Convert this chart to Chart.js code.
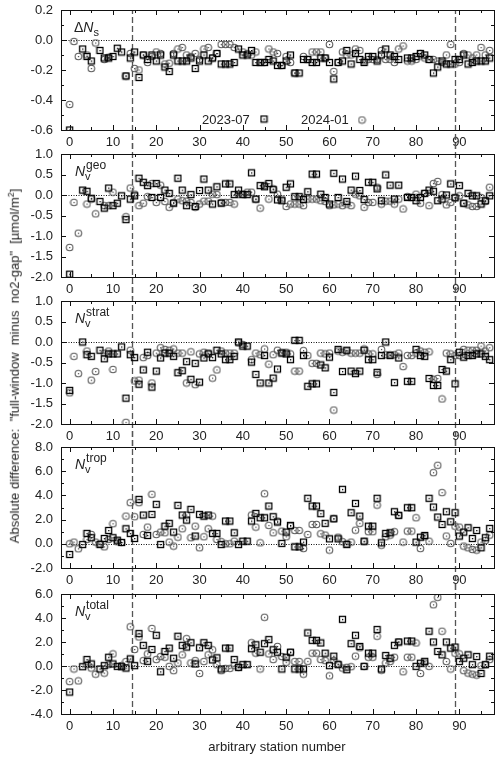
<!DOCTYPE html>
<html>
<head>
<meta charset="utf-8">
<script src="https://cdn.jsdelivr.net/npm/chart.js@4.4.1/dist/chart.umd.min.js"></script>
<style>
body { margin: 0; background: #fff; width: 500px; height: 758px; position: relative; overflow: hidden;
       font-family: "Liberation Sans", Arial, sans-serif; color: #222; }
.pane { position: absolute; left: 0; width: 500px; }
#ytitle { position: absolute; left: 14px; top: 366px; transform: translate(-50%, -50%) rotate(-90deg);
          white-space: pre; font-size: 13px; }
#xtitle { position: absolute; left: 277px; top: 746px; transform: translate(-50%, -50%);
          white-space: nowrap; font-size: 13px; }
</style>
</head>
<body>
<div class="pane" style="top:-8px"><canvas id="c0" width="500" height="160"></canvas></div>
<div class="pane" style="top:136px"><canvas id="c1" width="500" height="163"></canvas></div>
<div class="pane" style="top:283px"><canvas id="c2" width="500" height="163"></canvas></div>
<div class="pane" style="top:429px"><canvas id="c3" width="500" height="161"></canvas></div>
<div class="pane" style="top:576px"><canvas id="c4" width="500" height="160"></canvas></div>
<div id="ytitle">Absolute difference:  "full-window  minus  no2-gap"  [µmol/m<sup style="font-size:9px">2</sup>]</div>
<div id="xtitle">arbitrary station number</div>

<script>
// stations along the x axis
const stations = Array.from({ length: 98 }, (_, i) => i);
const xTicks = [0, 10, 20, 30, 40, 50, 60, 70, 80, 90];
const dashedAt = [14.5, 89];
const seriesNames = ['2023-07', '2024-01'];

// ΔN_s
const nsJul = [-0.60, null, null, -0.06, -0.11, -0.14, null, -0.07, -0.12, -0.12,
  -0.11, -0.055, -0.08, -0.24, -0.12, -0.08, -0.25, -0.10, -0.13, -0.10,
  -0.14, -0.10, -0.18, -0.21, -0.10, -0.14, -0.14, -0.14, -0.12, -0.19,
  -0.14, -0.10, -0.14, -0.12, -0.09, -0.16, -0.16, -0.16, -0.15, -0.06,
  -0.10, -0.10, -0.07, -0.15, -0.15, -0.15, -0.13, -0.14, -0.17, -0.17,
  -0.14, -0.10, -0.22, -0.22, -0.13, -0.13, -0.15, -0.15, -0.12, -0.12,
  -0.15, -0.26, -0.15, -0.14, -0.07, -0.16, -0.09, -0.13, -0.15, -0.11,
  -0.11, -0.14, -0.10, -0.06, -0.10, -0.11, -0.13, null, -0.12, -0.12,
  -0.11, -0.09, -0.10, -0.13, -0.22, -0.18, -0.14, -0.16, -0.16, -0.13,
  -0.13, -0.10, -0.16, -0.15, -0.14, -0.14, -0.14, -0.12];
const nsJan = [-0.43, -0.01, -0.11, null, -0.10, -0.19, -0.02, null, -0.13, -0.115,
  null, null, null, -0.24, -0.09, -0.19, -0.20, -0.10, -0.15, -0.11,
  -0.08, -0.09, -0.16, -0.155, -0.09, -0.06, -0.05, -0.10, -0.11, -0.09,
  -0.13, -0.06, -0.05, -0.12, -0.09, -0.03, -0.03, -0.03, -0.05, null,
  -0.08, -0.09, -0.10, -0.08, -0.15, -0.15, -0.06, -0.08, -0.09, -0.17,
  -0.11, -0.15, -0.22, null, -0.11, -0.13, -0.08, -0.08, -0.08, -0.12,
  -0.03, -0.21, -0.15, -0.08, -0.10, -0.10, -0.06, -0.07, -0.14, -0.13,
  -0.13, -0.13, -0.07, -0.13, -0.13, -0.15, -0.06, -0.04, -0.14, -0.14,
  -0.13, -0.09, -0.12, -0.13, -0.13, -0.14, -0.15, -0.10, -0.03, -0.16,
  -0.15, -0.09, -0.10, -0.12, -0.10, -0.05, -0.10, -0.07];

// N_v geo
const geoJul = [-1.93, null, null, 0.12, 0.09, -0.08, null, -0.16, -0.32, 0.17,
  -0.26, -0.20, -0.02, -0.60, -0.10, -0.02, 0.41, 0.31, 0.23, -0.06,
  0.28, -0.06, 0.12, 0.04, -0.20, 0.41, 0.12, -0.26, 0.01, -0.28,
  0.11, 0.39, 0.12, -0.22, 0.20, -0.20, 0.27, 0.27, 0.01, 0.12,
  0.01, 0.01, 0.54, -0.10, 0.23, 0.20, 0.28, 0.13, -0.12, -0.14,
  0.19, 0.27, -0.04, -0.04, -0.11, 0.08, 0.51, 0.51, 0.02, -0.06,
  -0.22, 0.53, -0.06, 0.39, -0.16, 0.12, 0.46, 0.11, -0.11, 0.31,
  0.31, 0.15, -0.14, 0.49, 0.24, -0.10, 0.24, null, -0.06, -0.06,
  -0.14, -0.06, 0.04, 0.12, 0.09, -0.14, -0.10, 0.00, 0.27, -0.07,
  0.23, -0.20, 0.04, -0.02, -0.02, -0.22, -0.14, -0.02];
const geoJan = [-1.28, -0.18, -0.93, null, -0.22, -0.10, -0.46, null, -0.26, -0.26,
  0.07, null, null, -0.53, 0.17, 0.02, -0.26, -0.20, -0.04, 0.28,
  -0.18, 0.24, -0.16, -0.30, -0.18, -0.10, -0.14, -0.15, -0.18, -0.30,
  -0.22, -0.15, -0.15, 0.02, 0.01, -0.18, -0.18, -0.18, -0.22, 0.02,
  0.02, 0.07, 0.07, -0.10, -0.32, 0.23, -0.10, 0.15, 0.02, -0.10,
  -0.28, -0.22, -0.22, -0.22, -0.26, -0.10, -0.10, -0.10, -0.14, -0.16,
  -0.26, -0.24, -0.22, -0.26, -0.22, -0.26, 0.02, -0.02, -0.30, -0.18,
  -0.18, 0.19, -0.22, -0.15, -0.15, -0.22, -0.10, -0.34, -0.04, -0.06,
  0.02, -0.20, 0.04, -0.26, 0.28, 0.33, 0.01, -0.24, -0.18, -0.06,
  -0.02, -0.20, -0.24, -0.28, -0.28, -0.06, -0.16, 0.19];

// N_v strat
const stratJul = [-1.18, null, null, 0.00, -0.31, -0.35, null, -0.20, -0.41, -0.29,
  -0.29, -0.29, -0.12, -1.37, -0.31, -0.38, -1.03, -0.68, -0.25, -1.10,
  -0.71, -0.39, -0.27, -0.27, -0.35, -0.75, -0.70, -0.48, -0.91, -0.52,
  -0.98, -0.39, -0.29, -0.38, -0.20, -0.29, -0.43, -0.43, -0.35, 0.00,
  -0.10, -0.10, -0.49, -0.79, -1.00, -0.33, -1.00, -0.88, -0.66, -0.27,
  -0.29, -0.43, 0.04, 0.04, -0.33, -1.08, -1.02, -1.02, -0.56, -0.63,
  -0.37, -1.23, -0.18, -0.72, -0.20, -0.71, -0.77, -0.71, -0.20, -0.43,
  -0.43, -0.74, -0.33, 0.00, -0.33, -0.99, -0.39, null, -0.96, -0.96,
  -0.18, -0.33, -0.35, -0.89, -1.06, -1.06, -0.67, -0.71, -0.43, -1.02,
  -0.25, -0.37, -0.33, -0.33, -0.29, -0.29, -0.35, -0.43];
const stratJan = [-1.24, -0.35, -0.77, null, -0.22, -0.93, -0.72, null, -0.27, -0.22,
  -0.67, null, null, -1.96, -0.20, -0.95, -0.93, -0.38, -0.33, -1.00,
  -0.27, -0.14, -0.18, -0.20, -0.17, -0.27, -0.27, -1.00, -0.24, -1.04,
  -0.29, -0.25, -0.27, -0.88, -0.68, -0.22, -0.27, -0.27, -0.27, -0.02,
  -0.06, null, -0.43, -0.27, -0.31, -0.17, -0.54, -0.31, -0.20, -0.25,
  -0.25, -0.29, -0.71, -0.71, -0.21, -0.33, -0.52, -0.52, -0.27, -0.29,
  -0.27, -1.66, -0.22, -0.25, -0.22, -0.27, -0.27, -0.27, -0.17, -0.29,
  -0.29, -0.79, -0.18, -0.31, -0.31, -0.31, -0.27, -0.60, -0.33, -0.33,
  -0.27, -0.22, -0.25, -0.24, -0.91, -0.89, -1.39, -0.27, -0.29, -0.33,
  -0.33, -0.18, -0.20, -0.20, -0.20, -0.10, -0.22, -0.14];

// N_v trop
const tropJul = [-0.88, null, null, -0.06, 0.86, 0.50, null, -0.06, 0.44, 1.10,
  0.50, 0.30, 0.11, 1.24, 0.86, 0.44, 3.67, 2.38, 0.69, 2.43,
  3.26, -0.06, 1.46, 1.69, 0.97, 3.18, 2.38, 1.96, 2.85, 0.64,
  2.43, 2.29, 2.38, 0.86, 0.86, -0.06, 1.88, 1.88, 0.91, -0.06,
  0.22, 0.22, 1.88, 2.51, 2.15, 2.15, 3.12, 2.24, 1.80, 0.03,
  0.97, 1.52, -0.25, -0.25, 0.14, 3.76, 3.12, 3.12, 2.49, 1.69,
  0.41, 2.07, 0.41, 4.50, -0.06, 2.57, 3.34, 2.29, 0.22, 1.46,
  1.46, 3.76, 0.08, 0.86, 0.91, 2.65, 2.35, null, 2.98, 2.98,
  0.14, 0.55, 0.69, 3.76, 3.04, 2.21, 1.60, 2.65, 1.82, 2.57,
  0.64, 0.97, 1.33, 0.44, 1.10, -0.33, 0.50, 1.27];
const tropJan = [0.00, 0.14, -0.41, null, 0.36, 0.77, 0.14, 0.00, -0.25, 0.36,
  1.66, 0.17, 0.11, 2.29, 3.40, 2.24, 3.40, 0.77, 1.38, 4.09,
  0.77, 0.97, 0.91, 0.14, -0.19, 0.55, 1.24, 2.38, 0.50, 1.46,
  -0.33, 0.58, 1.24, 2.29, 0.36, 0.17, 0.00, 0.00, 0.22, null,
  null, null, 2.38, 1.38, 0.08, 4.14, 1.52, 0.91, 1.88, 1.05,
  0.58, 1.46, 1.10, 1.10, -0.39, 0.77, 1.60, 1.60, 0.83, 0.72,
  -0.52, 2.07, 0.55, 0.17, 0.00, 0.14, 1.13, 1.69, 0.17, 1.00,
  1.00, 3.20, -0.11, 0.58, 0.72, 1.00, 2.35, 0.14, 1.05, 1.05,
  2.15, -0.39, 0.58, 0.22, 5.88, 6.49, 4.23, 0.64, 0.03, 1.46,
  1.38, -0.19, -0.33, -0.47, -0.52, 0.14, 0.28, 0.72];

// N_v total
const totalJul = [-2.17, null, null, -0.06, 0.54, 0.17, null, -0.25, 0.03, 0.73,
  0.17, -0.03, -0.06, -0.17, 0.59, 0.03, 2.70, 1.72, 0.39, 1.38,
  2.56, -0.48, 1.21, 1.49, 0.65, 2.48, 1.72, 1.58, 1.94, 0.17,
  1.52, 1.94, 1.72, 0.51, 0.68, -0.25, 1.49, 1.49, 0.54, -0.11,
  0.11, 0.11, 1.44, 1.77, 1.15, 1.86, 2.20, 1.35, 1.15, -0.25,
  0.73, 1.15, -0.25, -0.25, -0.25, 2.76, 2.14, 2.14, 1.92, 1.07,
  0.03, 0.82, 0.11, 3.89, -0.31, 1.86, 2.56, 1.63, -0.03, 1.07,
  1.07, 3.04, -0.25, 0.87, 0.65, 1.72, 2.00, null, 2.08, 2.08,
  -0.03, 0.23, 0.39, 2.90, 2.00, 1.21, 0.93, 2.00, 1.49, 1.58,
  0.37, 0.65, 0.93, 0.11, 0.79, -0.62, 0.11, 0.82];
const totalJan = [-1.30, -0.25, -1.24, null, 0.11, -0.17, -0.68, null, -0.59, 0.11,
  1.01, null, 0.03, 0.37, 3.27, 1.38, 2.42, 0.45, 1.01, 3.13,
  0.54, 0.79, 0.73, -0.03, -0.39, 0.25, 0.93, 2.28, 0.25, 0.45,
  -0.62, 0.37, 0.93, 1.35, 0.11, -0.39, -0.20, -0.20, 0.03, -0.11,
  null, null, 1.94, 1.07, -0.25, 4.06, 1.01, 0.54, 1.63, 0.79,
  0.31, 1.15, 0.37, 0.37, -0.68, 0.39, 1.07, 1.07, 0.54, 0.45,
  -0.82, 0.45, 0.17, -0.17, -0.11, -0.06, 0.82, 1.52, -0.03, 0.73,
  0.73, 2.48, -0.34, 0.25, 0.37, 0.73, 2.00, -0.48, 0.73, 0.73,
  1.92, -0.62, 0.25, -0.03, 5.10, 5.72, 2.90, 0.37, -0.25, 1.07,
  1.01, -0.39, -0.59, -0.68, -0.76, 0.03, 0.11, 0.54];

// y tick labels per panel
const nsTicks = [-0.6, -0.4, -0.2, 0.0, 0.2];
const geoTicks = [-2.0, -1.5, -1.0, -0.5, 0.0, 0.5, 1.0];
const stratTicks = [-2.0, -1.5, -1.0, -0.5, 0.0, 0.5, 1.0];
const tropTicks = [-2.0, 0.0, 2.0, 4.0, 6.0, 8.0];
const totalTicks = [-4.0, -2.0, 0.0, 2.0, 4.0, 6.0];

const FONT = '"Liberation Sans", Arial, sans-serif';
const INK = '#222';

function makeMarker(kind) {
  const c = document.createElement('canvas');
  c.width = 9; c.height = 9;
  const g = c.getContext('2d');
  if (kind === 'sq') {
    g.strokeStyle = '#000'; g.lineWidth = 1.3;
    g.strokeRect(1.5, 1.5, 6, 6);
    g.fillStyle = '#000'; g.fillRect(4, 4, 1.3, 1.3);
  } else {
    g.strokeStyle = '#5c5c5c'; g.lineWidth = 1.1;
    g.beginPath(); g.arc(4.5, 4.5, 3.3, 0, Math.PI * 2); g.stroke();
    g.fillStyle = '#444'; g.fillRect(4, 4, 1.2, 1.2);
  }
  return c;
}
const sqImg = makeMarker('sq');
const ciImg = makeMarker('ci');

const pts = vals => stations.map((s, i) => ({ x: s, y: vals[i] })).filter(p => p.y !== null);

const panels = [
  { id: 'c0', top: -8, jul: nsJul, jan: nsJan, ticks: nsTicks, minor: 0.1, pre: 'Δ', sub: 's', sup: '', legend: true },
  { id: 'c1', top: 136, jul: geoJul, jan: geoJan, ticks: geoTicks, minor: 0.5, pre: '', sub: 'v', sup: 'geo' },
  { id: 'c2', top: 283, jul: stratJul, jan: stratJan, ticks: stratTicks, minor: 0.5, pre: '', sub: 'v', sup: 'strat' },
  { id: 'c3', top: 429, jul: tropJul, jan: tropJan, ticks: tropTicks, minor: 1, pre: '', sub: 'v', sup: 'trop' },
  { id: 'c4', top: 576, jul: totalJul, jan: totalJan, ticks: totalTicks, minor: 1, pre: '', sub: 'v', sup: 'total' }
];

const decor = {
  id: 'decor',
  beforeDatasetsDraw(chart, args, o) {
    const { ctx, chartArea: a, scales: { x, y } } = chart;
    ctx.save();
    // zero line
    const y0 = Math.round(y.getPixelForValue(0)) + 0.5;
    ctx.strokeStyle = '#111'; ctx.lineWidth = 1;
    ctx.setLineDash([1, 1.5]);
    ctx.beginPath(); ctx.moveTo(a.left, y0); ctx.lineTo(a.right, y0); ctx.stroke();
    // dashed separators, spanning all panels
    ctx.strokeStyle = '#555'; ctx.lineWidth = 1.3;
    ctx.setLineDash([6, 3]);
    ctx.lineDashOffset = o.top + 100;
    const yA = o.first ? a.top : 0;
    const yB = o.last ? a.bottom : chart.height;
    dashedAt.forEach(v => {
      const px = Math.round(x.getPixelForValue(v)) + 0.5;
      ctx.beginPath(); ctx.moveTo(px, yA); ctx.lineTo(px, yB); ctx.stroke();
    });
    ctx.restore();
  },
  afterDatasetsDraw(chart, args, o) {
    const { ctx, chartArea: a, scales: { x, y } } = chart;
    ctx.save();
    ctx.strokeStyle = '#111'; ctx.lineWidth = 1;
    ctx.strokeRect(a.left + 0.5, a.top + 0.5, a.right - a.left, a.bottom - a.top);
    ctx.beginPath();
    for (let v = 0; v <= 95; v += 5) {
      const px = Math.round(x.getPixelForValue(v)) + 0.5;
      const len = v % 10 === 0 ? 5 : 3;
      ctx.moveTo(px, a.top); ctx.lineTo(px, a.top + len);
      ctx.moveTo(px, a.bottom); ctx.lineTo(px, a.bottom - len);
    }
    const lo = o.ticks[0], hi = o.ticks[o.ticks.length - 1];
    const n = Math.round((hi - lo) / o.minor);
    for (let k = 0; k <= n; k++) {
      const v = lo + k * o.minor;
      const py = Math.round(y.getPixelForValue(v)) + 0.5;
      const major = o.ticks.some(t => Math.abs(t - v) < 1e-6);
      const len = major ? 5 : 3;
      ctx.moveTo(a.left, py); ctx.lineTo(a.left + len, py);
      ctx.moveTo(a.right, py); ctx.lineTo(a.right - len, py);
    }
    ctx.stroke();

    // panel label
    ctx.fillStyle = INK;
    ctx.textBaseline = 'alphabetic';
    let tx = a.left + 14;
    const base = a.top + 22;
    if (o.pre) {
      ctx.font = '14px ' + FONT;
      ctx.fillText(o.pre, tx - 1, base);
      tx += ctx.measureText(o.pre).width - 1;
    }
    ctx.font = 'italic 14px ' + FONT;
    ctx.fillText('N', tx, base);
    tx += ctx.measureText('N').width;
    ctx.font = '11px ' + FONT;
    ctx.fillText(o.sub, tx, base + 4);
    if (o.sup) {
      ctx.font = '12px ' + FONT;
      ctx.fillText(o.sup, tx + 1, base - 7);
    }

    // legend
    if (o.legend) {
      ctx.font = '13px ' + FONT;
      const by = a.bottom - 6;
      ctx.fillText(seriesNames[0], a.left + 141, by);
      ctx.fillText(seriesNames[1], a.left + 240, by);
      ctx.drawImage(sqImg, a.left + 203 - 4.5, a.bottom - 11 - 4.5);
      ctx.drawImage(ciImg, a.left + 301 - 4.5, a.bottom - 10 - 4.5);
    }
    ctx.restore();
  }
};

panels.forEach((p, i) => {
  new Chart(document.getElementById(p.id), {
    type: 'scatter',
    data: {
      datasets: [
        { label: seriesNames[0], data: pts(p.jul), pointStyle: sqImg, pointRadius: 4 },
        { label: seriesNames[1], data: pts(p.jan), pointStyle: ciImg, pointRadius: 4 }
      ]
    },
    options: {
      responsive: false,
      animation: false,
      events: [],
      layout: { padding: { top: 18, right: 6, left: 0, bottom: 0 } },
      plugins: {
        legend: { display: false },
        tooltip: { enabled: false },
        decor: { top: p.top, first: i === 0, last: i === panels.length - 1,
                 ticks: p.ticks, minor: p.minor, pre: p.pre, sub: p.sub, sup: p.sup, legend: !!p.legend }
      },
      scales: {
        x: {
          type: 'linear', min: -2, max: 98,
          afterBuildTicks: s => { s.ticks = xTicks.map(v => ({ value: v })); },
          afterFit: s => { s.height = 22; },
          grid: { display: false, drawTicks: false },
          border: { display: false },
          ticks: { color: INK, font: { family: FONT, size: 13 }, padding: 5, maxRotation: 0,
                   autoSkip: false, callback: v => String(v) }
        },
        y: {
          min: p.ticks[0], max: p.ticks[p.ticks.length - 1],
          afterBuildTicks: s => { s.ticks = p.ticks.map(v => ({ value: v })); },
          afterFit: s => { s.width = 61; },
          grid: { display: false, drawTicks: false },
          border: { display: false },
          ticks: { color: INK, font: { family: FONT, size: 13 }, padding: 8,
                   callback: v => v.toFixed(1) }
        }
      }
    },
    plugins: [decor]
  });
});
</script>
</body>
</html>
